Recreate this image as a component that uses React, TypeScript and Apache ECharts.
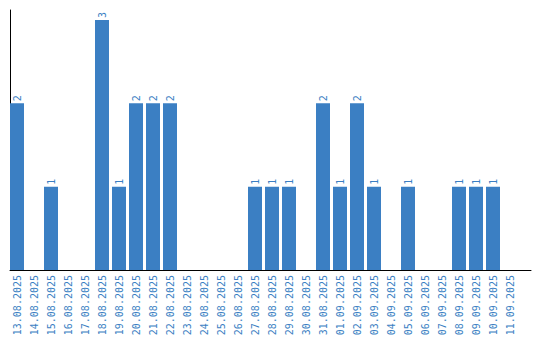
import React, { useEffect, useRef } from "react";
import * as echarts from "echarts";

const categories = [
  "13.08.2025", "14.08.2025", "15.08.2025", "16.08.2025", "17.08.2025",
  "18.08.2025", "19.08.2025", "20.08.2025", "21.08.2025", "22.08.2025",
  "23.08.2025", "24.08.2025", "25.08.2025", "26.08.2025", "27.08.2025",
  "28.08.2025", "29.08.2025", "30.08.2025", "31.08.2025", "01.09.2025",
  "02.09.2025", "03.09.2025", "04.09.2025", "05.09.2025", "06.09.2025",
  "07.09.2025", "08.09.2025", "09.09.2025", "10.09.2025", "11.09.2025",
];

const counts = [
  2, 0, 1, 0, 0,
  3, 1, 2, 2, 2,
  0, 0, 0, 0, 1,
  1, 1, 0, 2, 1,
  2, 1, 0, 1, 0,
  0, 1, 1, 1, 0,
];

const BLUE = "#3b7fc3";
const FONT = "'DejaVu Sans Mono', monospace";

export default function App() {
  const ref = useRef<HTMLDivElement>(null);
  useEffect(() => {
    if (!ref.current) return;
    const chart = echarts.init(ref.current, undefined, { renderer: "svg" });
    chart.setOption({
      animation: false,
      grid: [
        { left: 8.5, right: 21.5, top: 10, bottom: 70 },
        { left: 10, right: 9, top: 10, bottom: 70 },
      ],
      xAxis: [
        {
          type: "category",
          gridIndex: 0,
          data: categories,
          axisLine: { show: false },
          axisTick: { show: false },
          axisLabel: {
            rotate: 90,
            interval: 0,
            margin: 5,
            color: BLUE,
            fontFamily: FONT,
            fontSize: 10,
          },
        },
        {
          type: "value",
          gridIndex: 1,
          min: 0,
          max: 1,
          axisLine: { show: true, lineStyle: { color: "#000", width: 1 } },
          axisTick: { show: false },
          axisLabel: { show: false },
          splitLine: { show: false },
        },
      ],
      yAxis: [
        {
          type: "value",
          gridIndex: 0,
          min: 0,
          max: 3.12,
          axisLine: { show: false },
          axisTick: { show: false },
          axisLabel: { show: false },
          splitLine: { show: false },
        },
        {
          type: "value",
          gridIndex: 1,
          min: 0,
          max: 1,
          axisLine: { show: true, lineStyle: { color: "#000", width: 1 } },
          axisTick: { show: false },
          axisLabel: { show: false },
          splitLine: { show: false },
        },
      ],
      series: [
        {
          type: "bar",
          xAxisIndex: 0,
          yAxisIndex: 0,
          data: counts,
          barWidth: 14,
          itemStyle: { color: BLUE },
          label: {
            show: true,
            position: "top",
            rotate: 90,
            align: "left",
            verticalAlign: "middle",
            distance: 2,
            color: BLUE,
            fontFamily: FONT,
            fontSize: 10,
            formatter: (p: any) => (p.value ? String(p.value) : ""),
          },
        },
      ],
    });
    return () => chart.dispose();
  }, []);
  return (
    <div
      ref={ref}
      style={{ position: "absolute", left: 0, top: 0, width: 540, height: 340 }}
    />
  );
}
